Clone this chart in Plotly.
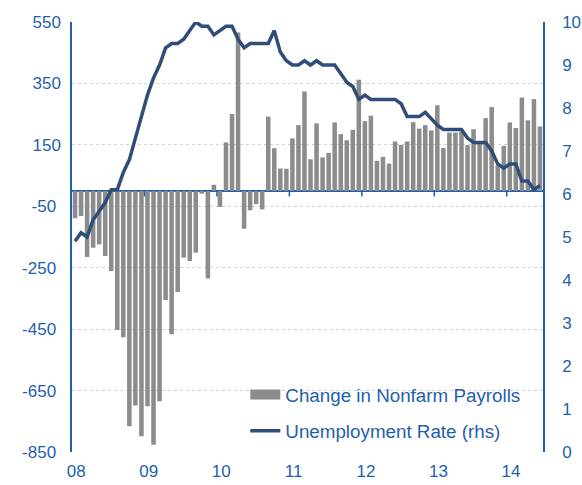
import plotly.graph_objects as go

# Monthly data, Jan 2008 .. Jun 2014 (as drawn)
payrolls_2008 = [-89, -82, -215, -185, -174, -212, -261, -453, -476, -766, -699, -799]
payrolls_2009 = [-701, -826, -685, -355, -467, -329, -217, -228, -201, -9, -285, 20]
payrolls_2010 = [-52, 158, 250, 516, -123, -63, -43, -60, 242, 139, 73, 72]
payrolls_2011 = [171, 214, 324, 103, 220, 109, 124, 223, 185, 165, 199, 362]
payrolls_2012 = [227, 245, 98, 111, 89, 161, 150, 161, 224, 203, 214, 197]
payrolls_2013 = [279, 140, 190, 190, 193, 149, 201, 161, 237, 273, 84, 147]
payrolls_2014 = [223, 205, 304, 230, 299, 210]

unemp_2008 = [4.9, 5.1, 5.0, 5.4, 5.6, 5.8, 6.1, 6.1, 6.5, 6.8, 7.3, 7.8]
unemp_2009 = [8.3, 8.7, 9.0, 9.4, 9.5, 9.5, 9.6, 9.8, 10.0, 9.9, 9.9, 9.7]
unemp_2010 = [9.8, 9.9, 9.9, 9.6, 9.4, 9.5, 9.5, 9.5, 9.5, 9.8, 9.3, 9.1]
unemp_2011 = [9.0, 9.0, 9.1, 9.0, 9.1, 9.0, 9.0, 9.0, 8.8, 8.6, 8.5, 8.2]
unemp_2012 = [8.3, 8.2, 8.2, 8.2, 8.2, 8.2, 8.1, 7.8, 7.8, 7.8, 7.9, 7.75]
unemp_2013 = [7.6, 7.5, 7.5, 7.5, 7.5, 7.3, 7.2, 7.2, 7.2, 7.0, 6.7, 6.6]
unemp_2014 = [6.7, 6.7, 6.3, 6.3, 6.1, 6.2]

year_labels = ["08", "09", "10", "11", "12", "13", "14"]
left_ticks = [-850, -650, -450, -250, -50, 150, 350, 550]
right_ticks = [0, 1, 2, 3, 4, 5, 6, 7, 8, 9, 10]

payrolls = (payrolls_2008 + payrolls_2009 + payrolls_2010 + payrolls_2011
            + payrolls_2012 + payrolls_2013 + payrolls_2014)
unemp = (unemp_2008 + unemp_2009 + unemp_2010 + unemp_2011
         + unemp_2012 + unemp_2013 + unemp_2014)
months = list(range(len(payrolls)))

BLUE = "#1F5FAD"
NAVY = "#2F4D78"
GREY = "#8C8C8C"
GRID = "#C9D3E6"
FONT = "Liberation Sans, Arial, sans-serif"
FS = 17
LFS = 18.8

# negative labels carry a trailing pad (as in the source's number format)
left_text = [(str(v) + "\u00a0") if v < 0 else str(v) for v in left_ticks]

fig = go.Figure()
fig.add_trace(go.Bar(x=months, y=payrolls, marker=dict(color=GREY, line=dict(width=0)),
                     showlegend=False, yaxis="y"))
fig.add_trace(go.Scatter(x=months, y=unemp, mode="lines", yaxis="y2",
                         line=dict(color=NAVY, width=3.5), showlegend=True,
                         name="Unemployment Rate (rhs)", legend="legend2"))
# legend proxy for bars (wide grey swatch)
fig.add_trace(go.Scatter(x=[None], y=[None], mode="lines", line=dict(color=GREY, width=10),
                         name="Change in Nonfarm Payrolls", legend="legend"))

# year-boundary tick marks on the zero line
for k in range(1, len(year_labels)):
    xb = 12 * k - 0.5
    fig.add_shape(type="line", xref="x", yref="y", x0=xb, x1=xb, y0=0, y1=-18,
                  line=dict(color=BLUE, width=1.5), layer="above")

fig.update_layout(
    width=582, height=485,
    margin=dict(l=72, r=39, t=22, b=33, autoexpand=False),
    paper_bgcolor="white", plot_bgcolor="white",
    font=dict(family=FONT, size=FS, color=BLUE),
    bargap=0.25,
    xaxis=dict(range=[-0.5, len(months) - 0.5], tickvals=[12 * k + 0.2 for k in range(len(year_labels))],
               ticktext=year_labels, showgrid=False, zeroline=False, showline=False,
               ticks="", ticklabelstandoff=7, automargin=False,
               tickfont=dict(size=FS, color=BLUE)),
    yaxis=dict(range=[-850, 550], tickvals=left_ticks, ticktext=left_text,
               showgrid=True, gridcolor=GRID, griddash="dot", gridwidth=1,
               zeroline=True, zerolinecolor=BLUE, zerolinewidth=1.5,
               showline=True, linecolor=BLUE, linewidth=1.5, ticks="", automargin=False,
               ticklabelstandoff=6, tickfont=dict(size=FS, color=BLUE)),
    yaxis2=dict(range=[0, 10], tickvals=right_ticks, overlaying="y", side="right",
                showgrid=False, zeroline=False, showline=True, linecolor=BLUE, linewidth=1.5,
                ticks="", ticklabelstandoff=14, automargin=False,
                tickfont=dict(size=FS, color=BLUE)),
    legend=dict(x=0.368, y=0.133, xanchor="left", yanchor="middle", bgcolor="rgba(0,0,0,0)",
                font=dict(size=LFS, color=BLUE), itemwidth=30),
    legend2=dict(x=0.368, y=0.049, xanchor="left", yanchor="middle", bgcolor="rgba(0,0,0,0)",
                 font=dict(size=LFS, color=BLUE), itemwidth=30),
)

fig.write_html("out.html", config={"displayModeBar": False},
               post_script="document.documentElement.style.margin='0';document.body.style.margin='0';")
